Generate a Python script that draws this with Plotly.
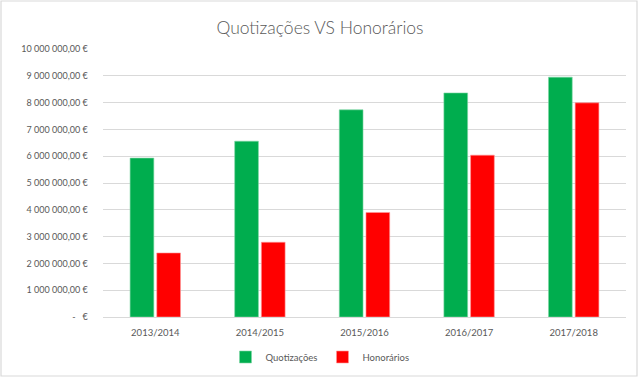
import plotly.graph_objects as go

categories = ["2013/2014", "2014/2015", "2015/2016", "2016/2017", "2017/2018"]
quotizacoes = [5930000, 6560000, 7730000, 8360000, 8950000]
honorarios = [2390000, 2790000, 3900000, 6040000, 7990000]
tick_values = [0, 1e6, 2e6, 3e6, 4e6, 5e6, 6e6, 7e6, 8e6, 9e6, 1e7]
tick_labels = [" -   € ", "1 000 000,00 € ", "2 000 000,00 € ", "3 000 000,00 € ",
               "4 000 000,00 € ", "5 000 000,00 € ", "6 000 000,00 € ",
               "7 000 000,00 € ", "8 000 000,00 € ", "9 000 000,00 € ",
               "10 000 000,00 € "]

W, H = 640, 378
L, R, T, B = 103, 14, 49, 61
pw, ph = W - L - R, H - T - B

fig = go.Figure()
fig.add_trace(go.Bar(name="Quotizações", x=categories, y=quotizacoes,
                     marker=dict(color="#00AD4E", line=dict(color="#7fd6a6", width=0.6))))
fig.add_trace(go.Bar(name="Honorários", x=categories, y=honorarios,
                     marker=dict(color="#FF0000", line=dict(color="#ff9a9a", width=0.6))))

def px_x(p):
    return (p - L) / pw

def px_y(p):
    return (H - B - p) / ph

fig.add_shape(type="rect", xref="paper", yref="paper",
              x0=px_x(1), x1=px_x(637), y0=px_y(376), y1=px_y(1),
              line=dict(color="#d9d9d9", width=1.2), layer="below")

fig.update_layout(
    width=W, height=H,
    margin=dict(l=L, r=R, t=T, b=B, autoexpand=False),
    paper_bgcolor="white", plot_bgcolor="white",
    barmode="group", bargap=0.49, bargroupgap=0.11,
    title=dict(text="Quotizações VS Honorários", x=0.5, xref="container", xanchor="center",
               y=1 - 28 / H, yanchor="middle", yref="container",
               font=dict(family="Lato", size=17.5, color="#595959", weight=300)),
    font=dict(family="Lato", size=9, color="#595959"),
    xaxis=dict(showgrid=False, showline=False, ticks="", zeroline=False,
               tickfont=dict(size=9.5, color="#595959"), ticklabelstandoff=8),
    yaxis=dict(range=[0, 1e7], tickvals=tick_values, ticktext=tick_labels,
               showgrid=True, gridcolor="#d9d9d9", gridwidth=1, zeroline=True,
               zerolinecolor="#d9d9d9", zerolinewidth=1, showline=False, ticks="",
               tickfont=dict(size=9, color="#595959"), ticklabelstandoff=12),
    legend=dict(orientation="h", x=px_x(320), xref="paper",
                xanchor="center", y=-(357 - (H - B)) / ph, yanchor="middle",
                font=dict(size=9.5, color="#595959"), itemwidth=30,
                traceorder="normal"),
    showlegend=True,
)

fig.write_html("out.html", config={"displayModeBar": False},
               post_script="document.body.style.margin='0';document.body.style.padding='0';")
